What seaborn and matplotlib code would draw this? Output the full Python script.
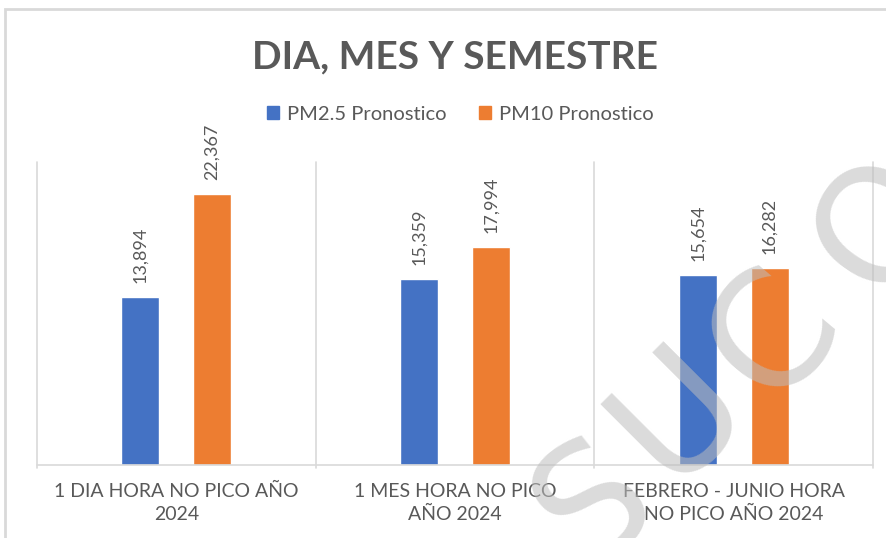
import matplotlib
matplotlib.use("Agg")
import matplotlib.pyplot as plt
import seaborn as sns
import pandas as pd
from matplotlib.patches import Rectangle

categories = ["1 DIA HORA NO PICO AÑO\n2024", "1 MES HORA NO PICO\nAÑO 2024", "FEBRERO - JUNIO HORA\nNO PICO AÑO 2024"]
series_names = ["PM2.5 Pronostico", "PM10 Pronostico"]
pm25_values = [13894, 15359, 15654]
pm10_values = [22367, 17994, 16282]
colors = ["#4472C4", "#ED7D31"]

df = pd.DataFrame({
    "categoria": categories * 2,
    "serie": [series_names[0]] * 3 + [series_names[1]] * 3,
    "valor": pm25_values + pm10_values,
})

sns.set_theme(style="white")
plt.rcParams["font.family"] = ["Lato", "DejaVu Sans"]

W, H = 887, 538
fig = plt.figure(figsize=(W / 100, H / 100), dpi=100)
fig.patch.set_facecolor("white")

def fx(x): return x / W
def fy(y): return 1 - y / H

ax = fig.add_axes([fx(37), fy(465), fx(873) - fx(37), (465 - 162) / H])
sns.barplot(data=df, x="categoria", y="valor", hue="serie", order=categories,
            hue_order=series_names, palette=colors, width=0.516, gap=0.47,
            saturation=1, ax=ax, legend=False, zorder=3)

ax.set_xlim(-0.5, 2.5)
ax.set_ylim(0, 25000)
for s in ax.spines.values():
    s.set_visible(False)
ax.set_yticks([])
ax.set_xlabel("")
ax.set_ylabel("")
ax.tick_params(axis="x", length=0, pad=13)
ax.set_xticks(range(3))
ax.set_xticklabels(categories, fontsize=14, color="#595959", linespacing=1.45)

grid_c = "#D9D9D9"
for xv in [-0.5, 0.5, 1.5, 2.5]:
    ax.plot([xv, xv], [-250, 25000], color=grid_c, lw=1.2, clip_on=False, zorder=1)
ax.plot([-0.5, 2.5], [0, 0], color=grid_c, lw=1.2, clip_on=False, zorder=4)

for cont in ax.containers:
    for bar in cont:
        v = bar.get_height()
        ax.annotate(f"{v:,.0f}", (bar.get_x() + bar.get_width() / 2, v),
                    xytext=(0, 10), textcoords="offset points", rotation=90,
                    ha="center", va="bottom", fontsize=13, color="#595959")

# legend
handles = [Rectangle((0, 0), 1, 1, color=c) for c in colors]
fig.legend(handles, series_names, loc="center", bbox_to_anchor=(fx(460), fy(114)),
           ncol=2, frameon=False, fontsize=14.5, handlelength=0.6, handleheight=0.6,
           handletextpad=0.4, columnspacing=1.6, labelcolor="#595959")

fig.text(fx(455), fy(57), "DIA, MES Y SEMESTRE", ha="center", va="center",
         fontsize=28, fontweight="bold", color="#595959")

# outer chart border
fig.patches.append(Rectangle((fx(5), fy(560)), fx(900), fy(9) - fy(560),
                             transform=fig.transFigure, fill=False,
                             edgecolor="#D9D9D9", lw=2))

# watermark
for ch, (x, y, r) in zip("SUCO", [(595, 505, 38), (680, 415, 45), (775, 335, 50), (885, 225, 55)]):
    fig.text(fx(x), fy(y), ch, ha="center", va="center", rotation=r, fontsize=115,
             color="#BDBDBD", alpha=0.55, family="DejaVu Sans", zorder=10)

fig.savefig("out.png", dpi=100)
